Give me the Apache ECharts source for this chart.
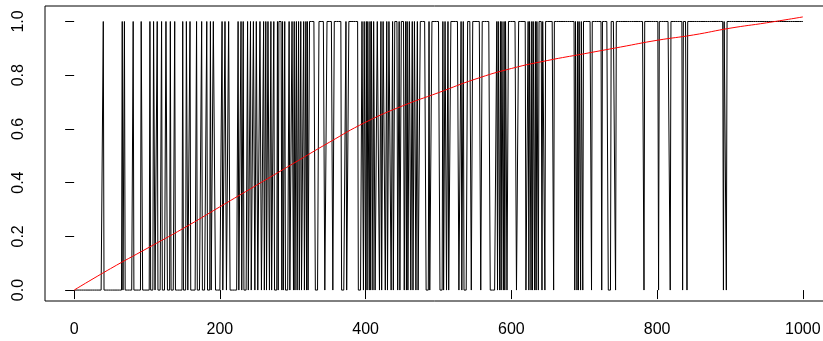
<!DOCTYPE html>
<html>
<head>
<meta charset="utf-8">
<script src="https://cdn.jsdelivr.net/npm/echarts@6/dist/echarts.min.js"></script>
<style>
  html, body { margin: 0; padding: 0; background: #fff; }
  #chart { width: 823px; height: 341px; }
</style>
</head>
<body>
<div id="chart"></div>
<script>
// runs of 1 in the 0/1 series (index from, index to)
const oneRuns = [
  [40, 40], [66, 66], [69, 69], [81, 81],
  [92, 93], [104, 104], [109, 110], [114, 114], [120, 120], [126, 127], [132, 132], [138, 138],
  [149, 149], [154, 155], [159, 159], [168, 168], [175, 175],
  [182, 182], [187, 187], [191, 193], [203, 203], [207, 208], [212, 213], [225, 225], [229, 229],
  [232, 232], [238, 238], [242, 242], [246, 247], [250, 251], [255, 256], [260, 260], [263, 263],
  [266, 267], [270, 270],
  [274, 274], [279, 279], [281, 284], [286, 286], [289, 289], [295, 295], [299, 300], [302, 302],
  [305, 305], [308, 308], [311, 311], [315, 315], [318, 318], [320, 320],
  [323, 330], [336, 343], [347, 354], [357, 366],
  [373, 373], [377, 389], [395, 396], [398, 399], [401, 401], [403, 404], [406, 406], [408, 409],
  [411, 412], [416, 418], [421, 421], [424, 426], [429, 429], [432, 434], [437, 437], [440, 443],
  [446, 446], [449, 452], [455, 455],
  [457, 457], [460, 461], [464, 464], [467, 468], [471, 471], [475, 482], [487, 487], [491, 501],
  [506, 506], [509, 510], [513, 513], [517, 527], [531, 531], [534, 534], [540, 544], [547, 557],
  [560, 570], [580, 580], [582, 583], [585, 585], [587, 588], [590, 590], [592, 593], [596, 606],
  [610, 619], [623, 623], [625, 626], [628, 628], [630, 631], [633, 633], [635, 636], [638, 641],
  [643, 645], [647, 657], [659, 686], [688, 689], [691, 691], [693, 694], [696, 697], [699, 709],
  [711, 723], [725, 732], [737, 742], [744, 781], [783, 801], [803, 817], [819, 834], [836, 840],
  [842, 890], [892, 894], [896, 1000]
];
const seriesLength = 1000;

// red smooth curve, read every 50 units
const fitX = [0, 50, 100, 150, 200, 250, 300, 350, 400, 450, 500, 550, 600, 650, 700, 750, 800, 850, 900, 950, 1000];
const fitY = [0, 0.08, 0.155, 0.23, 0.31, 0.39, 0.47, 0.55, 0.625, 0.685, 0.735, 0.785, 0.825, 0.855, 0.88, 0.905, 0.93, 0.95, 0.975, 0.995, 1.017];

const xTicks = [0, 200, 400, 600, 800, 1000];
const yTicks = [0, 0.2, 0.4, 0.6, 0.8, 1.0];

const values = new Array(seriesLength).fill(0);
oneRuns.forEach(function (r) {
  for (let i = r[0]; i <= r[1]; i++) values[i - 1] = 1;
});
const stepData = values.map(function (v, i) { return [i + 1, v]; });
const fitData = fitX.map(function (x, i) { return [x, fitY[i]]; });

const myChart = echarts.init(document.getElementById('chart'));

const option = {
  animation: false,
  textStyle: { fontFamily: 'Liberation Sans, Arial, sans-serif' },
  grid: {
    left: 45,
    top: 6,
    width: 787,
    height: 295,
    outerBoundsMode: 'none',
    containLabel: false,
    show: true,
    borderColor: '#000',
    borderWidth: 1,
    backgroundColor: 'transparent'
  },
  xAxis: {
    type: 'value',
    min: -40,
    max: 1040,
    axisLine: { show: false },
    splitLine: { show: false },
    axisTick: {
      show: true,
      customValues: xTicks,
      length: 9,
      lineStyle: { color: '#000', width: 1 }
    },
    axisLabel: {
      customValues: xTicks,
      color: '#000',
      fontSize: 16,
      margin: 21,
      formatter: function (v) { return String(v); }
    }
  },
  yAxis: {
    type: 'value',
    min: -0.0407,
    max: 1.0577,
    axisLine: { show: false },
    splitLine: { show: false },
    axisTick: {
      show: true,
      customValues: yTicks,
      length: 9,
      lineStyle: { color: '#000', width: 1 }
    },
    axisLabel: {
      customValues: yTicks,
      color: '#000',
      fontSize: 16,
      rotate: 90,
      margin: 18,
      formatter: function (v) { return v.toFixed(1); }
    }
  },
  series: [
    {
      type: 'line',
      data: stepData,
      symbol: 'none',
      sampling: null,
      lineStyle: { color: '#000', width: 1, join: 'bevel' },
      itemStyle: { color: '#000' },
      z: 2
    },
    {
      type: 'line',
      data: fitData,
      symbol: 'none',
      smooth: true,
      lineStyle: { color: '#ff0000', width: 1 },
      itemStyle: { color: '#ff0000' },
      z: 3
    }
  ]
};

myChart.setOption(option);
window.addEventListener('resize', () => {
  myChart.resize();
});
</script>
</body>
</html>
